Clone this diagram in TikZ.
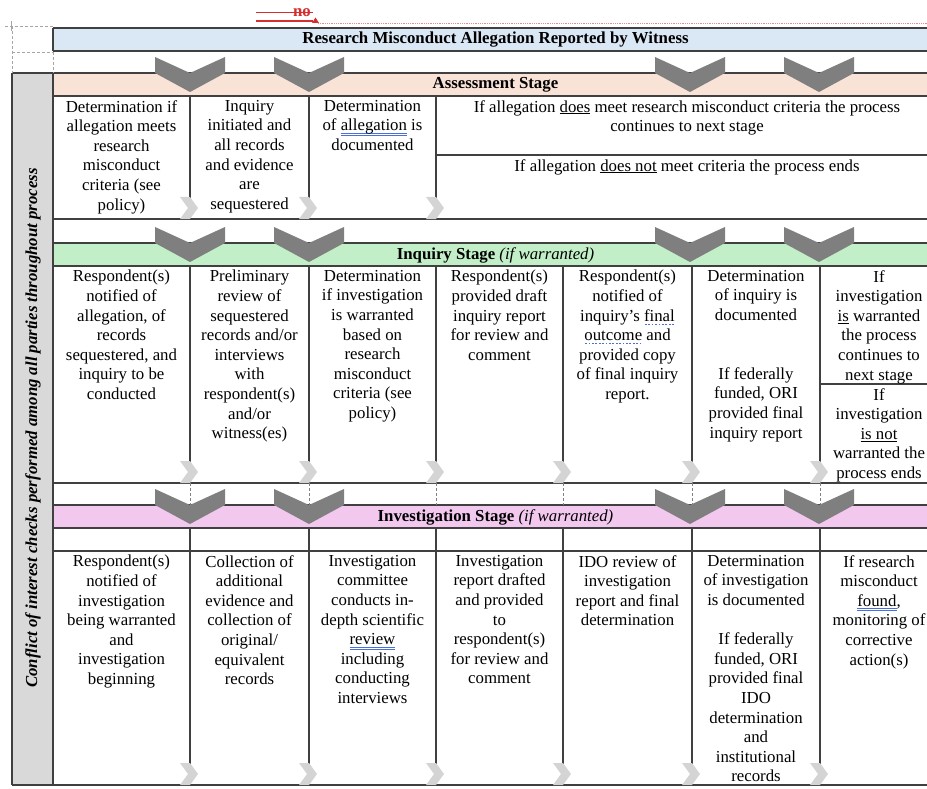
\documentclass[tikz,border=0pt]{standalone}
\usepackage{fontspec}
\setmainfont{Liberation Serif}
\usetikzlibrary{calc,positioning}
\usepackage{xcolor}

\definecolor{titleblue}{HTML}{DAE7F5}
\definecolor{assesspeach}{HTML}{F9E2D6}
\definecolor{inquirygreen}{HTML}{C2EFC8}
\definecolor{investpink}{HTML}{F2C8EE}
\definecolor{sidegray}{HTML}{D9D9D9}
\definecolor{chevgray}{HTML}{7F7F7F}
\definecolor{arrowgray}{HTML}{D4D4D4}
\definecolor{rulegray}{HTML}{404040}
\definecolor{gramblue}{HTML}{4A6FD8}
\definecolor{trackred}{HTML}{D62E2E}

\newsavebox{\ulbox}
\newcommand{\gramul}[1]{\sbox{\ulbox}{#1}\rlap{\color{gramblue}\rule[-2.8pt]{\wd\ulbox}{0.6pt}}\rlap{\color{gramblue}\rule[-4.6pt]{\wd\ulbox}{0.6pt}}\usebox{\ulbox}}
\newcommand{\dotul}[1]{\sbox{\ulbox}{#1}\rlap{\color{gramblue}\hbox to \wd\ulbox{\xleaders\hbox to 3.4pt{\hss\rule[-3.6pt]{1.7pt}{1pt}\hss}\hfill}}\usebox{\ulbox}}

\tikzset{
  cell/.style={anchor=north, align=center, inner sep=0pt, font=\fontsize{16.8}{19.6}\selectfont},
  stagebar/.style={inner sep=0pt, font=\fontsize{16.8}{19.6}\selectfont\bfseries},
  gridline/.style={draw=rulegray, line width=1.6pt},
  chevron/.style={fill=chevgray, draw=none},
  nextarrow/.style={fill=arrowgray, draw=none}
}

\begin{document}
\begin{tikzpicture}[x=1pt,y=-1pt]
\useasboundingbox (0,0) rectangle (927,789);
\clip (0,0) rectangle (927,789);

% Fill the stage bars and the side column
\fill[titleblue] (53,28) rectangle (938,51);
\fill[sidegray] (12,73) rectangle (53,785);
\fill[assesspeach] (53,73) rectangle (938,96);
\fill[inquirygreen] (53,243) rectangle (938,266);
\fill[investpink] (53,505) rectangle (938,528);

% Horizontal rules
\foreach \y in {28,51,96,219,243,266,483,505,528,551} {
    \draw[gridline] (53,\y) -- (938,\y);
}
\draw[gridline] (12,73) -- (938,73);
\draw[gridline] (12,785) -- (938,785);
\draw[gridline] (436,155) -- (938,155);
\draw[gridline] (820,384) -- (938,384);

% Vertical rules
\draw[gridline] (12,73) -- (12,785);
\draw[gridline] (53,28) -- (53,51);
\draw[gridline] (53,73) -- (53,785);
\foreach \x in {190,309,436} {
    \draw[gridline] (\x,96) -- (\x,219);
}
\foreach \x in {190,309,436,563,692,820} {
    \draw[gridline] (\x,266) -- (\x,483);
    \draw[gray, densely dashed, thin] (\x,483) -- (\x,505);
    \draw[gridline] (\x,528) -- (\x,785);
}

% Light gray arrows at the foot of each column
\foreach \x/\y in {190/219, 309/219, 436/219,
                   190/483, 309/483, 436/483, 563/483, 692/483, 820/483,
                   190/785, 309/785, 436/785, 563/785, 692/785, 820/785} {
    \fill[nextarrow] (\x-10,\y-22) -- (\x,\y-22) -- (\x+8,\y-11) -- (\x,\y) -- (\x-10,\y) -- (\x-2,\y-11) -- cycle;
}

% Dark chevrons between the stages
\foreach \y in {57,227,489} {
    \foreach \x in {190,309,690,819} {
        \fill[chevron] (\x-35,\y) -- (\x,\y+16) -- (\x+35,\y) -- (\x+35,\y+16) -- (\x,\y+35) -- (\x-35,\y+16) -- cycle;
    }
}

% Stage headings
\node[stagebar] (title) at (495.5,39.5) {Research Misconduct Allegation Reported by Witness};
\node[stagebar] (assess) at (495.5,85) {Assessment Stage};
\node[stagebar] (inquiry) at (495.5,255) {Inquiry Stage {\mdseries\itshape (if warranted)}};
\node[stagebar] (invest) at (495.5,517) {Investigation Stage {\mdseries\itshape (if warranted)}};

% Side label
\node[rotate=90, inner sep=0pt, font=\fontsize{16.8}{19.6}\selectfont\bfseries\itshape] (conflict) at (33,428)
    {Conflict of interest checks performed among all parties throughout process};

% Assessment cells
\node[cell] (a1) at (121.5,100) {Determination if\\allegation meets\\research\\misconduct\\criteria (see\\policy)};
\node[cell] (a2) at (249.5,100) {Inquiry\\initiated and\\all records\\and evidence\\are\\sequestered};
\node[cell] (a3) at (372.5,100) {Determination\\of \gramul{allegation} is\\documented};
\node[cell] (a4) at (687,100) {If allegation \underline{does} meet research misconduct criteria the process\\continues to next stage};
\node[cell] (a5) at (687,159) {If allegation \underline{does not} meet criteria the process ends};

% Inquiry cells
\node[cell] (i1) at (121.5,270) {Respondent(s)\\notified of\\allegation, of\\records\\sequestered, and\\inquiry to be\\conducted};
\node[cell] (i2) at (249.5,270) {Preliminary\\review of\\sequestered\\records and/or\\interviews\\with\\respondent(s)\\and/or\\witness(es)};
\node[cell] (i3) at (372.5,270) {Determination\\if investigation\\is warranted\\based on\\research\\misconduct\\criteria (see\\policy)};
\node[cell] (i4) at (499.5,270) {Respondent(s)\\provided draft\\inquiry report\\for review and\\comment};
\node[cell] (i5) at (627.5,270) {Respondent(s)\\notified of\\inquiry’s \dotul{final}\\\dotul{outcome} and\\provided copy\\of final inquiry\\report.};
\node[cell] (i6) at (756,270) {Determination\\of inquiry is\\documented\\~\\~\\If federally\\funded, ORI\\provided final\\inquiry report};
\node[cell] (i7) at (879,270) {If\\investigation\\\underline{is} warranted\\the process\\continues to\\next stage};
\node[cell] (i8) at (879,388) {If\\investigation\\\underline{is not}\\warranted the\\process ends};

% Investigation cells
\node[cell] (v1) at (121.5,555) {Respondent(s)\\notified of\\investigation\\being warranted\\and\\investigation\\beginning};
\node[cell] (v2) at (249.5,555) {Collection of\\additional\\evidence and\\collection of\\original/\\equivalent\\records};
\node[cell] (v3) at (372.5,555) {Investigation\\committee\\conducts in-\\depth scientific\\\gramul{review}\\including\\conducting\\interviews};
\node[cell] (v4) at (499.5,555) {Investigation\\report drafted\\and provided\\to\\respondent(s)\\for review and\\comment};
\node[cell] (v5) at (627.5,555) {IDO review of\\investigation\\report and final\\determination};
\node[cell] (v6) at (756,555) {Determination\\of investigation\\is documented\\~\\If federally\\funded, ORI\\provided final\\IDO\\determination\\and\\institutional\\records};
\node[cell] (v7) at (879,555) {If research\\misconduct\\\gramul{found},\\monitoring of\\corrective\\action(s)};

% Tracked change mark above the table
\node[stagebar, text=trackred] (delno) at (302,12.5) {no};
\draw[trackred, line width=1pt] (256,13) -- (313,13);
\draw[trackred, line width=1.6pt] (256,21) -- (313,21);
\fill[trackred] (312,23) -- (315.5,17.5) -- (319,23) -- cycle;
\draw[trackred!55, densely dotted, line width=0.8pt] (318,23) -- (938,23);

% Dashed layout guides
\draw[gray!70, densely dashed, thin] (5,26) -- (53,26);
\draw[gray!70, thin] (11,21) -- (11,31);
\draw[gray!70, densely dashed, thin] (12,26) -- (12,73);
\draw[gray!70, densely dashed, thin] (12,52) -- (53,52);
\draw[gray!70, densely dashed, thin] (53,52) -- (53,73);

\end{tikzpicture}
\end{document}
